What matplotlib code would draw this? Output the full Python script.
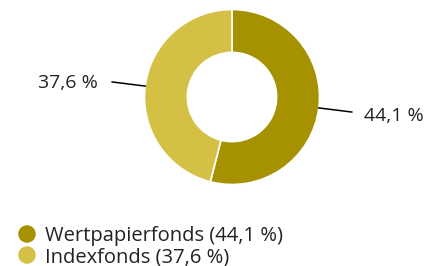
import matplotlib.pyplot as plt
import numpy as np

# data
labels = ['Wertpapierfonds', 'Indexfonds']
values = [44.1, 37.6]
value_labels = ['44,1 %', '37,6 %']
colors = ['#a69100', '#d5c046']

W, H = 441, 266
plt.rcParams['font.family'] = ['Open Sans', 'DejaVu Sans']

fig = plt.figure(figsize=(W / 100, H / 100), dpi=100)

# donut axes: centre (232, 97) px, radius 87.5 px
cx, cy, r = 232, 97, 87.5
ax = fig.add_axes([(cx - r) / W, (H - cy - r) / H, 2 * r / W, 2 * r / H])
wedges, _ = ax.pie(values, colors=colors, startangle=90, counterclock=False,
                   radius=1, wedgeprops=dict(width=0.49, edgecolor='white', linewidth=1.2))
ax.set_xlim(-1, 1)
ax.set_ylim(-1, 1)
ax.set_aspect('auto')
ax.axis('off')

# leader lines + value labels
for w, txt in zip(wedges, value_labels):
    ang = np.deg2rad((w.theta1 + w.theta2) / 2)
    dx, dy = np.cos(ang), np.sin(ang)
    ax.plot([dx * 1.0, dx * 1.38], [dy * 1.0, dy * 1.38], color='black', lw=1.1, clip_on=False)
    ha = 'left' if dx > 0 else 'right'
    ax.text(dx * 1.52 + (0 if dx > 0 else -0.02), dy * 1.52 - 0.03, txt, ha=ha, va='center',
            fontsize=14, color='#222222', clip_on=False)

# legend drawn by hand on a pixel-space overlay
leg_ax = fig.add_axes([0, 0, 1, 1], facecolor='none')
leg_ax.set_xlim(0, W)
leg_ax.set_ylim(H, 0)
leg_ax.axis('off')
for i, (lab, txt, col) in enumerate(zip(labels, value_labels, colors)):
    ymid = 234 + i * 21
    leg_ax.scatter([27], [ymid], s=17 ** 2 * 0.55, color=col, edgecolors='none')
    leg_ax.text(45, ymid + 7, f'{lab} ({txt})', ha='left', va='baseline',
                fontsize=14.5, color='#222222')

fig.savefig('out.png', dpi=100)
